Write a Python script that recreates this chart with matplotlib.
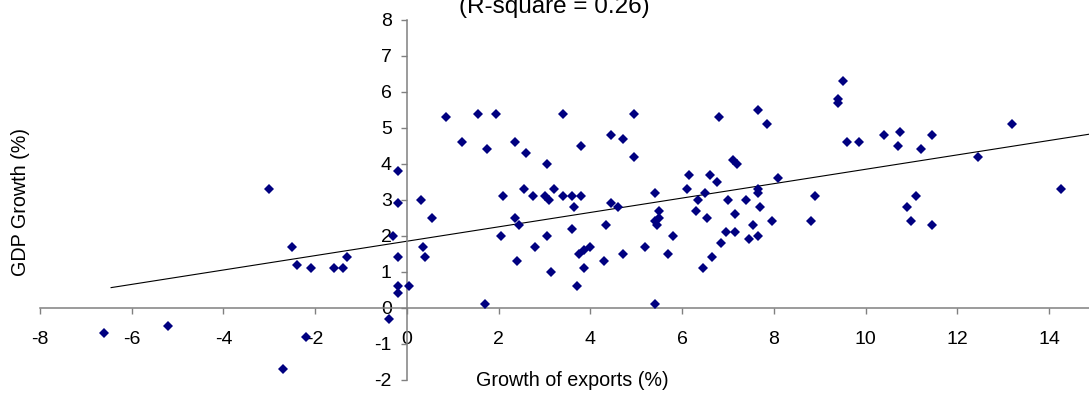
import numpy as np
import matplotlib.pyplot as plt

# growth of exports (%) vs GDP growth (%)
export_growth = [-6.6, -5.2, -3.0, -2.7, -2.5, -2.4, -2.2, -2.1, -1.6, -1.4, -1.3,
                 -0.4, -0.2, -0.2, -0.3, -0.2, -0.2, -0.2, 0.05,
                 0.3, 0.55, 0.35, 0.4, 0.85, 1.2, 1.55, 1.75, 1.7, 1.95,
                 2.1, 2.05, 2.35, 2.45, 2.4, 2.35, 2.6, 2.55, 2.75, 2.8,
                 3.05, 3.0, 3.1, 3.2, 3.05, 3.15, 3.4, 3.4, 3.6, 3.65, 3.6, 3.8, 3.8, 3.75, 3.85, 3.85, 3.7, 4.0,
                 4.45, 4.7, 4.95, 4.95, 4.45, 4.6, 4.35, 4.3, 4.7, 5.2,
                 5.4, 5.4, 5.45, 5.5, 5.5, 5.8, 5.7, 5.4,
                 6.1, 6.15, 6.35, 6.3, 6.5, 6.55, 6.6, 6.45, 6.65, 6.75, 6.8, 6.85,
                 7.0, 6.95, 7.1, 7.2, 7.15, 7.15, 7.4, 7.45, 7.55, 7.65, 7.65, 7.65, 7.7, 7.65, 7.85, 7.95,
                 8.1, 8.8, 8.9, 9.4, 9.4, 9.5, 9.6, 9.85,
                 10.4, 10.7, 10.75, 10.9, 11.0, 11.1, 11.2, 11.45, 11.45, 12.45, 13.2, 14.25]
gdp_growth = [-0.7, -0.5, 3.3, -1.7, 1.7, 1.2, -0.8, 1.1, 1.1, 1.1, 1.4,
              -0.3, 3.8, 2.9, 2.0, 1.4, 0.6, 0.4, 0.6,
              3.0, 2.5, 1.7, 1.4, 5.3, 4.6, 5.4, 4.4, 0.1, 5.4,
              3.1, 2.0, 2.5, 2.3, 1.3, 4.6, 4.3, 3.3, 3.1, 1.7,
              4.0, 3.1, 3.0, 3.3, 2.0, 1.0, 5.4, 3.1, 3.1, 2.8, 2.2, 4.5, 3.1, 1.5, 1.6, 1.1, 0.6, 1.7,
              4.8, 4.7, 5.4, 4.2, 2.9, 2.8, 2.3, 1.3, 1.5, 1.7,
              3.2, 2.4, 2.3, 2.7, 2.5, 2.0, 1.5, 0.1,
              3.3, 3.7, 3.0, 2.7, 3.2, 2.5, 3.7, 1.1, 1.4, 3.5, 5.3, 1.8,
              3.0, 2.1, 4.1, 4.0, 2.6, 2.1, 3.0, 1.9, 2.3, 5.5, 3.3, 3.2, 2.8, 2.0, 5.1, 2.4,
              3.6, 2.4, 3.1, 5.7, 5.8, 6.3, 4.6, 4.6,
              4.8, 4.5, 4.9, 2.8, 2.4, 3.1, 4.4, 4.8, 2.3, 4.2, 5.1, 3.3]

# linear trend
trend_intercept = 1.85
trend_slope = 0.2
trend_x = [-6.45, 15]

x_ticks = [-8, -6, -4, -2, 0, 2, 4, 6, 8, 10, 12, 14]
y_ticks = [-2, -1, 0, 1, 2, 3, 4, 5, 6, 7, 8]

plt.rcParams['font.family'] = ['Liberation Sans Narrow', 'Liberation Sans', 'DejaVu Sans']
plt.rcParams['axes.unicode_minus'] = False

fig = plt.figure(figsize=(10.89, 3.95), dpi=100)
ax = fig.add_axes([40/1089, 15.3/395, 1 - 40/1089, 359.7/395])

ax.plot(export_growth, gdp_growth, linestyle='none', marker='D', markersize=4.8,
        color='#000080', markeredgewidth=0, zorder=3)
ty = trend_intercept + trend_slope*np.array(trend_x)
ax.plot(trend_x, ty, color='black', linewidth=0.8, zorder=2)

ax.set_xlim(-8, 14.87)
ax.set_ylim(-2, 8)
ax.spines['left'].set_position(('data', 0))
ax.spines['bottom'].set_position(('data', 0))
ax.spines['top'].set_visible(False)
ax.spines['right'].set_visible(False)
for s in ['left', 'bottom']:
    ax.spines[s].set_color('#808080')
    ax.spines[s].set_linewidth(1.1)
ax.set_xticks(x_ticks)
ax.set_yticks(y_ticks)
ax.tick_params(axis='x', direction='out', length=4, width=1, color='#808080', pad=13, labelsize=14)
ax.tick_params(axis='y', direction='out', length=4, width=1, color='#808080', pad=7, labelsize=14)
ax.patch.set_visible(False)

fig.text(554/1089, (395-13)/395, '(R-square = 0.26)', ha='center', va='baseline',
         fontsize=17.5, family=['Liberation Sans', 'DejaVu Sans'])
fig.text(572/1089, (395-381)/395, 'Growth of exports (%)', ha='center', va='center',
         fontsize=14.2, family=['Liberation Sans', 'DejaVu Sans'])
fig.text(21/1089, (395-202)/395, 'GDP Growth (%)', ha='center', va='center', rotation=90,
         fontsize=14.2, family=['Liberation Sans', 'DejaVu Sans'])

fig.savefig('out.png', dpi=100)
